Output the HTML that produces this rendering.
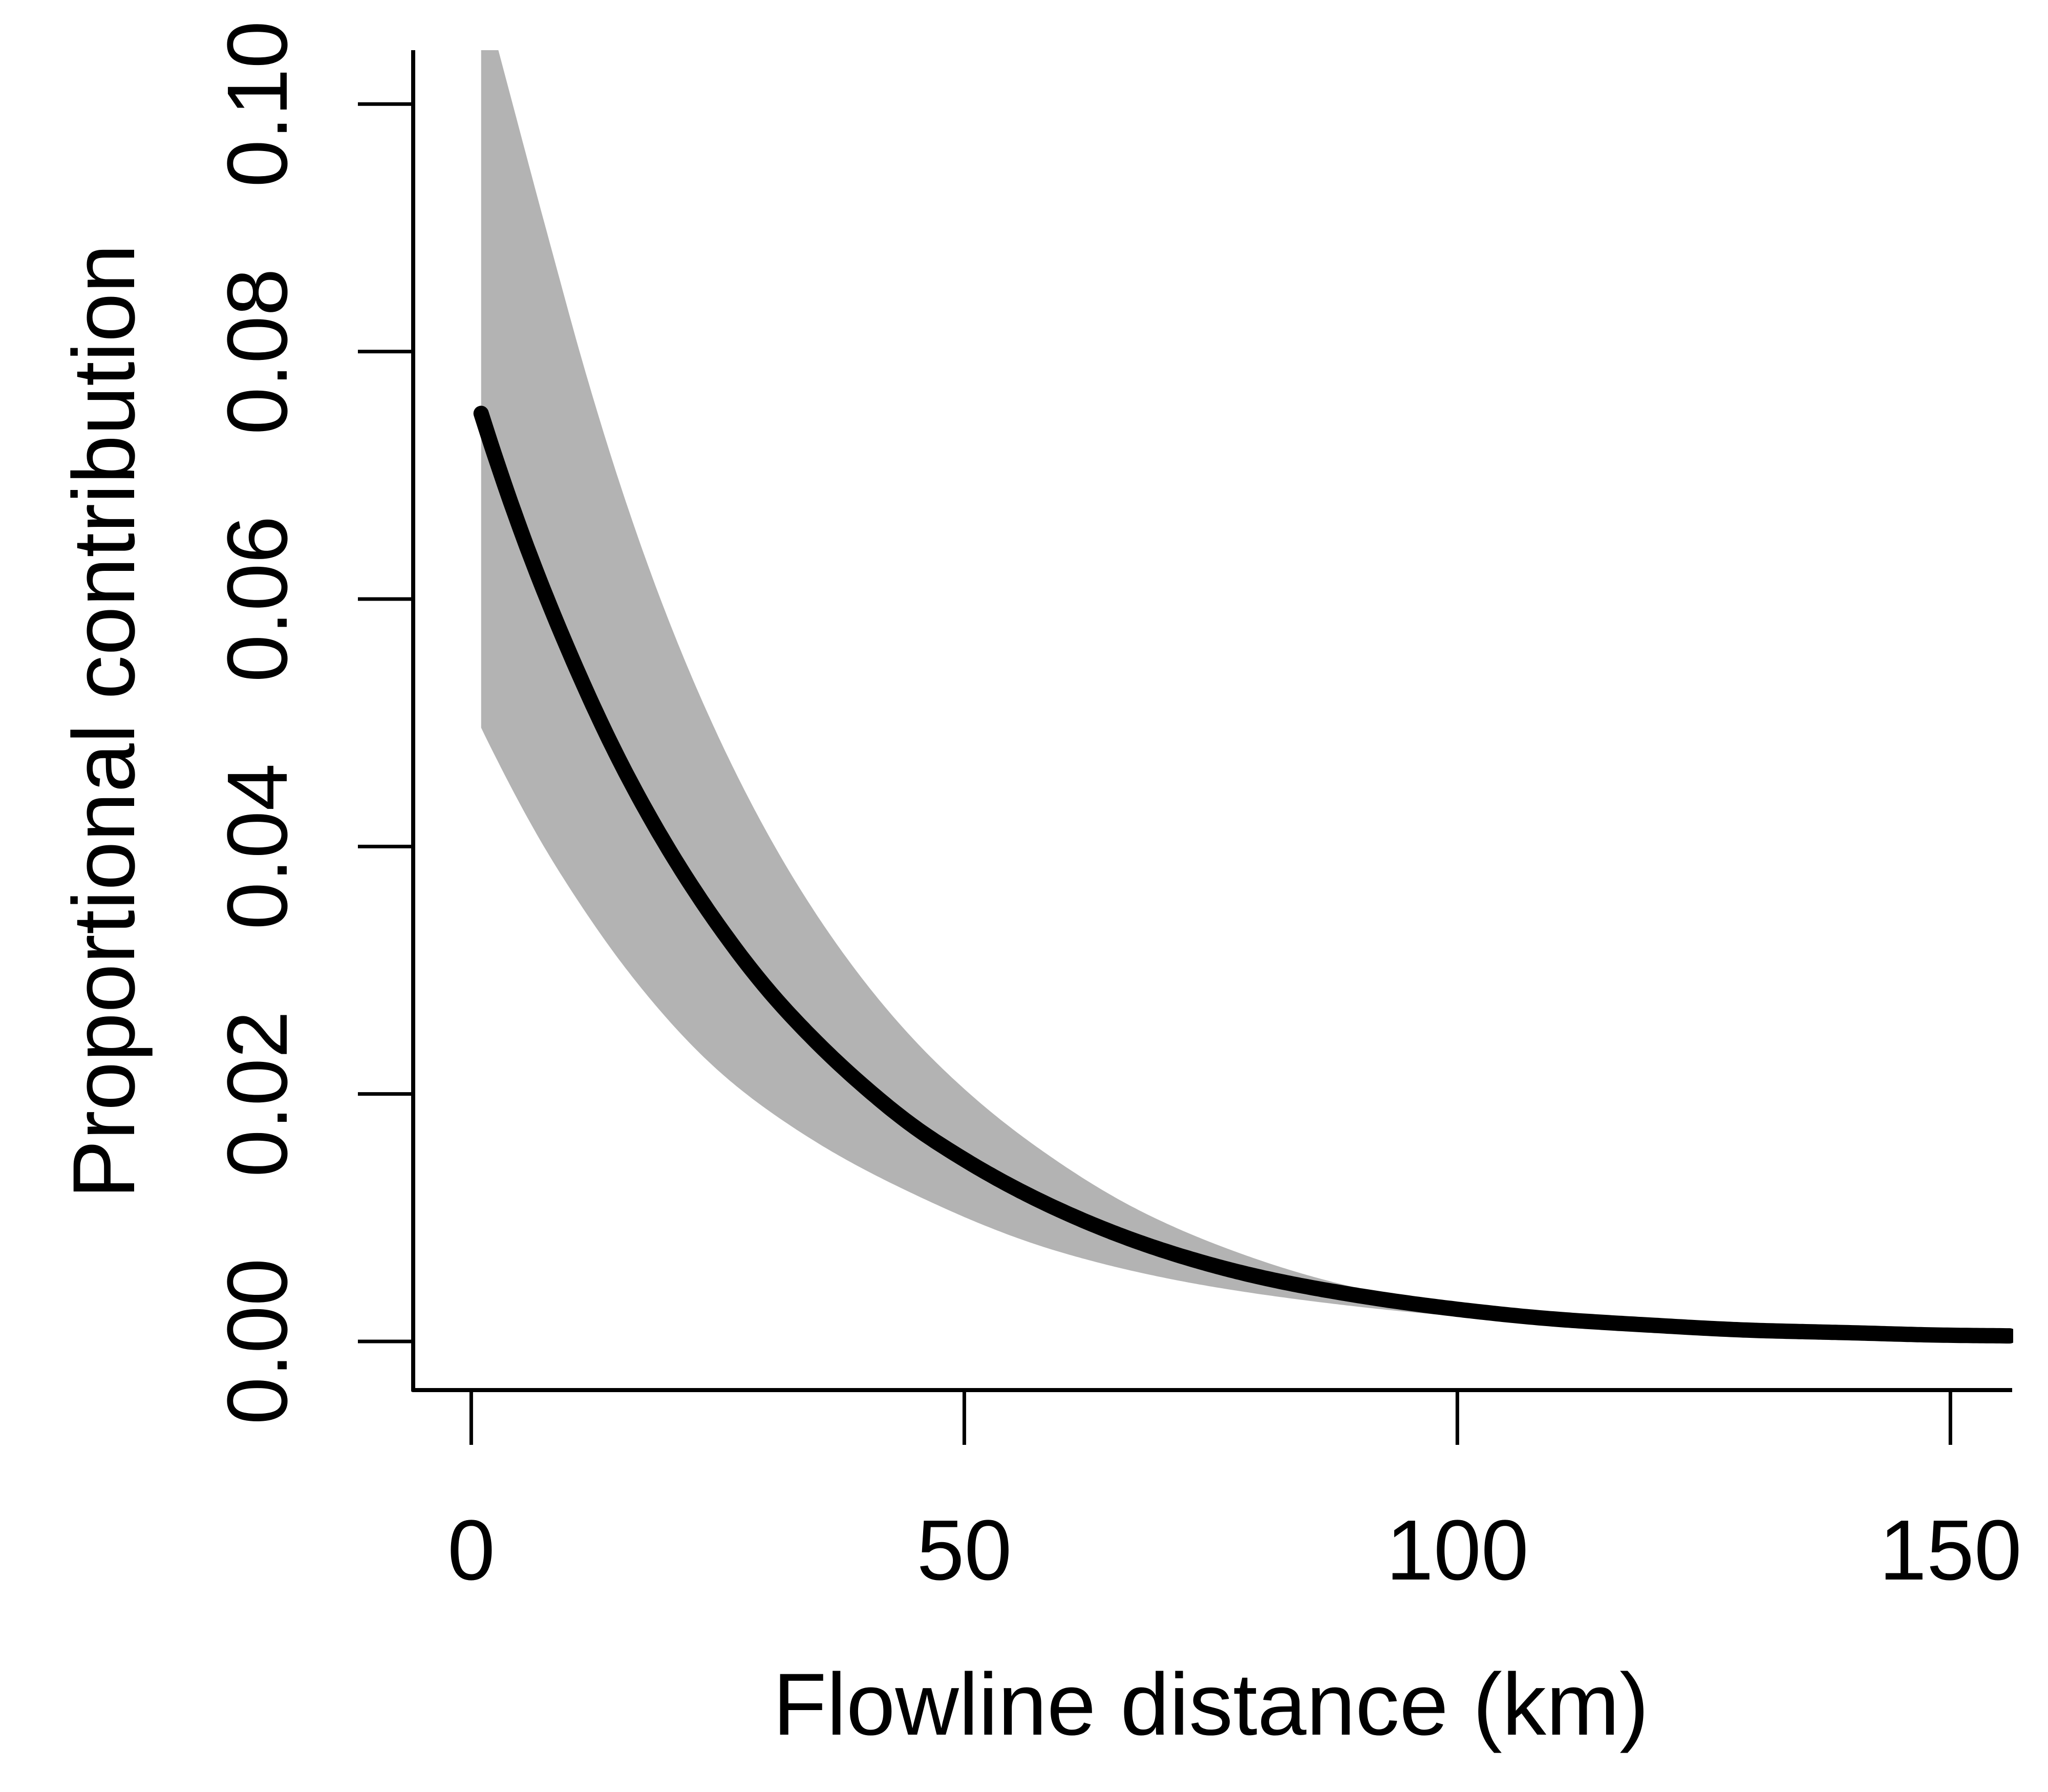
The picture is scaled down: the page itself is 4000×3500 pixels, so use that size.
<!DOCTYPE html>
<html><head><meta charset="utf-8"><style>
html,body{margin:0;padding:0;background:#fff;}
svg{display:block;font-family:"Liberation Sans",Arial,sans-serif;}
</style></head><body>
<svg id="chart" width="4000" height="3500" viewBox="0 0 4000 3500" xmlns="http://www.w3.org/2000/svg">
<defs><clipPath id="plotclip"><rect x="807" y="98" width="3125" height="2617"/></clipPath></defs>
<g id="band" clip-path="url(#plotclip)"></g>
<g id="line" clip-path="url(#plotclip)"></g>
<g id="axes"></g>
<text x="2365" y="3388" font-size="172" text-anchor="middle">Flowline distance (km)</text>
<text x="0" y="0" font-size="172" text-anchor="middle" transform="translate(262,1409) rotate(-90)">Proportional contribution</text>
</svg>
<script>
const meanX = [1,5,10,15,20,25,30,35,40,45,50,60,70,80,90,100,110,120,130,140,150,156];
const meanY = [0.075,0.0656,0.0556,0.047,0.0398,0.0337,0.0285,0.0242,0.0205,0.0173,0.0147,0.0105,0.0074,0.0052,0.0037,0.0026,0.0018,0.0013,0.0009,0.0007,0.0005,0.00045];
const upperX = [1,3,4.9,8.3,11.6,15,19,25.4,31,37.7,44.3,51,59,67,77.7,88.4,100,112,125,140,156];
const upperY = [0.1096,0.1036,0.0979,0.0878,0.0783,0.0695,0.0604,0.0483,0.0397,0.0314,0.0249,0.0197,0.0148,0.0109,0.0072,0.0046,0.0028,0.0017,0.0011,0.0007,0.0004];
const lowerX = [1,3,7,11,16.3,25.6,35,45.7,59,72.5,85.8,99,112,125,140,156];
const lowerY = [0.0496,0.0464,0.0405,0.0354,0.0295,0.0215,0.0161,0.0116,0.0074,0.0048,0.0032,0.0021,0.0014,0.0010,0.0007,0.0004];
const xTicks = [0,50,100,150];
const xTickLabels = ["0","50","100","150"];
const yTicks = [0,0.02,0.04,0.06,0.08,0.10];
const yTickLabels = ["0.00","0.02","0.04","0.06","0.08","0.10"];

const NS="http://www.w3.org/2000/svg";
function sx(v){return 920.4+19.26*v;}
function sy(v){return 2620-24167*v;}
function mk(tag,parent){const e=document.createElementNS(NS,tag);parent.appendChild(e);return e;}
// monotone cubic interpolation of log(y) vs x, densely sampled
function interp(xs,ys){
  const n=xs.length, ly=ys.map(Math.log), h=[], s=[];
  for(let i=0;i<n-1;i++){h.push(xs[i+1]-xs[i]);s.push((ly[i+1]-ly[i])/h[i]);}
  const m=[s[0]];
  for(let i=1;i<n-1;i++){ if(s[i-1]*s[i]<=0) m.push(0); else { const w1=2*h[i]+h[i-1], w2=h[i]+2*h[i-1]; m.push((w1+w2)/(w1/s[i-1]+w2/s[i])); } }
  m.push(s[n-2]);
  const pts=[];
  for(let i=0;i<n-1;i++){
    const N=Math.max(4,Math.ceil(h[i]*3));
    for(let k=0;k<N;k++){
      const t=k/N, t2=t*t, t3=t2*t;
      const v=(2*t3-3*t2+1)*ly[i]+(t3-2*t2+t)*h[i]*m[i]+(-2*t3+3*t2)*ly[i+1]+(t3-t2)*h[i]*m[i+1];
      pts.push([sx(xs[i]+t*h[i]),sy(Math.exp(v))]);
    }
  }
  pts.push([sx(xs[n-1]),sy(ys[n-1])]);
  return pts;
}
function toPath(p,first){return (first?'M':'L')+p.map(q=>q[0].toFixed(1)+','+q[1].toFixed(1)).join(' L');}
const band=document.getElementById('band');
const up=interp(upperX,upperY), lo=interp(lowerX,lowerY).reverse();
const bp=mk('path',band);


bp.setAttribute('d',toPath(up,true)+' '+toPath(lo,false)+' Z');bp.setAttribute('fill','#b3b3b3');

const line=document.getElementById('line');
const lp=mk('path',line);


lp.setAttribute('d',toPath(interp(meanX,meanY),true));
lp.setAttribute('fill','none');lp.setAttribute('stroke','#000');lp.setAttribute('stroke-width','30');lp.setAttribute('stroke-linecap','round');lp.setAttribute('stroke-linejoin','round');

const axes=document.getElementById('axes');
const xa=mk('line',axes);


xa.setAttribute('x1',805);xa.setAttribute('x2',3930);xa.setAttribute('y1',2715);xa.setAttribute('y2',2715);
xa.setAttribute('stroke','#000');xa.setAttribute('stroke-width','8');
const ya=mk('line',axes);


ya.setAttribute('x1',807);ya.setAttribute('x2',807);ya.setAttribute('y1',98);ya.setAttribute('y2',2718);
ya.setAttribute('stroke','#000');ya.setAttribute('stroke-width','8');
xTicks.forEach((v,i)=>{
  const t=mk('line',axes);
  
  
  t.setAttribute('x1',sx(v));t.setAttribute('x2',sx(v));t.setAttribute('y1',2715);t.setAttribute('y2',2822);
  t.setAttribute('stroke','#000');t.setAttribute('stroke-width','7');
  const l=mk('text',axes);
  
  
  l.setAttribute('x',sx(v));l.setAttribute('y',3085);l.setAttribute('font-size','167');l.setAttribute('text-anchor','middle');
  l.textContent=xTickLabels[i];
});
yTicks.forEach((v,i)=>{
  const t=mk('line',axes);
  
  
  t.setAttribute('x1',699);t.setAttribute('x2',807);t.setAttribute('y1',sy(v));t.setAttribute('y2',sy(v));
  t.setAttribute('stroke','#000');t.setAttribute('stroke-width','7');
  const l=mk('text',axes);
  
  
  l.setAttribute('x',0);l.setAttribute('y',0);l.setAttribute('font-size','167');l.setAttribute('text-anchor','middle');
  l.setAttribute('transform','translate(560,'+sy(v)+') rotate(-90)');
  l.textContent=yTickLabels[i];
});
</script>
</body></html>
